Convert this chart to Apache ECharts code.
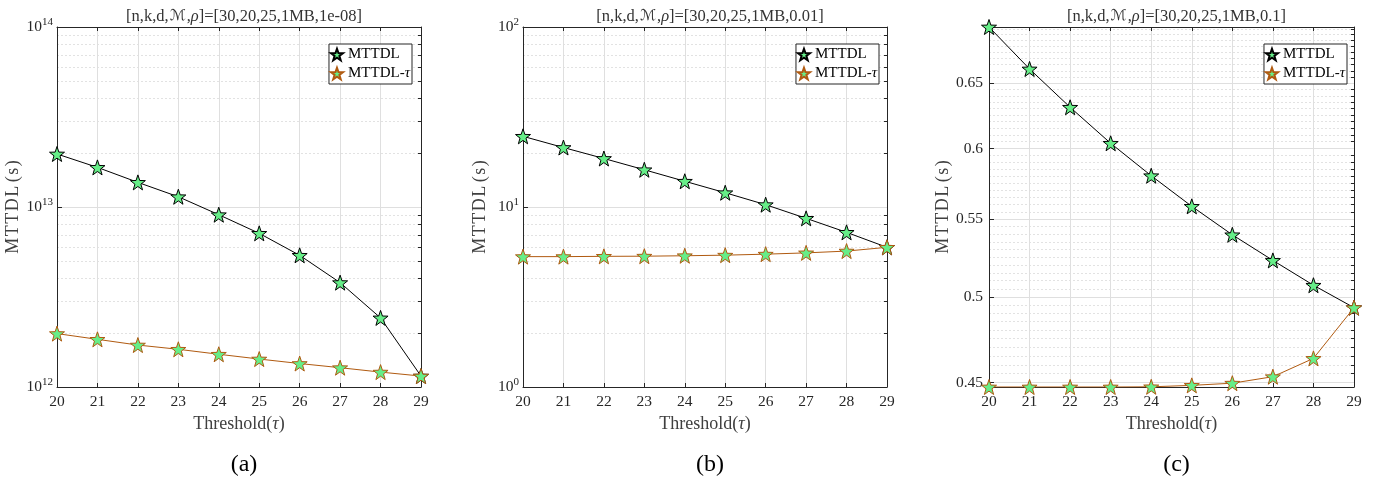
<!DOCTYPE html>
<html>
<head>
<meta charset="utf-8">
<script src="https://cdn.jsdelivr.net/npm/echarts@6/dist/echarts.min.js"></script>
<style>
html,body{margin:0;padding:0;background:#fff;}
#chart{width:1388px;height:479px;}
</style>
</head>
<body>
<div id="chart"></div>
<script>
// ---------------- data ----------------
const thresholds = [20, 21, 22, 23, 24, 25, 26, 27, 28, 29];

const mttdlA    = [1.97e13, 1.66e13, 1.37e13, 1.14e13, 9.06e12, 7.14e12, 5.39e12, 3.80e12, 2.42e12, 1.15e12];
const mttdlTauA = [1.98e12, 1.84e12, 1.71e12, 1.62e12, 1.52e12, 1.43e12, 1.35e12, 1.28e12, 1.21e12, 1.15e12];

const mttdlB    = [24.7, 21.4, 18.6, 16.1, 13.9, 12.0, 10.3, 8.65, 7.23, 5.97];
const mttdlTauB = [5.30, 5.30, 5.32, 5.33, 5.36, 5.40, 5.47, 5.56, 5.69, 5.97];

const mttdlC    = [0.6965, 0.6615, 0.6311, 0.6038, 0.5802, 0.5588, 0.5396, 0.5229, 0.5072, 0.4934];
const mttdlTauC = [0.4476, 0.4476, 0.4476, 0.4476, 0.4477, 0.4485, 0.4497, 0.4533, 0.4636, 0.4934];

const titles   = ['[n,k,d,{m|ℳ},{i|ρ}]=[30,20,25,1MB,1e-08]',
                  '[n,k,d,{m|ℳ},{i|ρ}]=[30,20,25,1MB,0.01]',
                  '[n,k,d,{m|ℳ},{i|ρ}]=[30,20,25,1MB,0.1]'];
const captions = ['(a)', '(b)', '(c)'];
const seriesNames = ['MTTDL', 'MTTDL-τ'];
const xName = 'Threshold({i|τ})';
const yName = 'M\u200aT\u200aT\u200aD\u200aL\u2009(\u200as\u200a)';

const yRangeA = [1e12, 1e14];
const yRangeB = [1, 100];
const yRangeC = [0.4476, 0.6965];
const majorTicksC = [0.45, 0.5, 0.55, 0.6, 0.65];

// minor log grid values (2..9 x 10^n)
function logMinors(lo, hi) {
  const out = [];
  for (let e = Math.round(Math.log10(lo)); e < Math.round(Math.log10(hi)); e++) {
    for (let k = 2; k <= 9; k++) out.push(k * Math.pow(10, e));
  }
  return out;
}
function linMinors(lo, hi, step) {
  const out = [];
  const n0 = Math.ceil(lo / step - 1e-9), n1 = Math.floor(hi / step + 1e-9);
  for (let n = n0; n <= n1; n++) {
    const v = +(n * step).toFixed(4);
    if (Math.abs(v / 0.05 - Math.round(v / 0.05)) > 1e-6) out.push(v);
  }
  return out;
}

// ---------------- styles ----------------
const FONT = '"Liberation Serif", "DejaVu Serif", serif';
const AX = '#262626';
const STAR = 'path://M0,-10 L2.35,-3.24 L9.51,-3.09 L3.8,1.24 L5.88,8.09 L0,4 L-5.88,8.09 L-3.8,1.24 L-9.51,-3.09 L-2.35,-3.24 Z';
const GREEN = '#66ee88';
const BROWN = '#b05a10';

const grids = [
  {left: 57,  top: 27, width: 364, height: 360},
  {left: 523, top: 27, width: 364, height: 360},
  {left: 989, top: 27, width: 365, height: 360}
];
const legendRight = [976, 509, 41];

const option = {
  animation: false,
  backgroundColor: '#fff',
  grid: grids.map(g => Object.assign({containLabel: false, outerBoundsMode: 'none'}, g)),
  title: [],
  legend: [],
  xAxis: [],
  yAxis: [],
  series: []
};

function supLabel(v) {
  const e = Math.round(Math.log10(v));
  return '{b|10}{s|' + e + '}';
}

const yRanges = [yRangeA, yRangeB, yRangeC];
const dataSets = [[mttdlA, mttdlTauA], [mttdlB, mttdlTauB], [mttdlC, mttdlTauC]];

for (let p = 0; p < 3; p++) {
  const g = grids[p];
  const cx = g.left + g.width / 2;
  option.title.push({
    text: titles[p], left: cx, top: 3, textAlign: 'center',
    textStyle: {fontFamily: FONT, fontSize: 16.5, fontWeight: 'normal', color: '#333',
      rich: {m: {fontFamily: '"DejaVu Sans", serif', fontSize: 15, color: '#333', padding: [0, 1, 0, 1]},
             i: {fontFamily: FONT, fontSize: 16.5, fontStyle: 'italic', color: '#333'}}}
  });
  option.title.push({
    text: captions[p], left: cx, top: 448, textAlign: 'center',
    textStyle: {fontFamily: FONT, fontSize: 24, fontWeight: 'normal', color: '#000'}
  });
  option.legend.push({
    data: seriesNames, right: legendRight[p], top: 44, orient: 'vertical',
    icon: STAR, itemWidth: 12, itemHeight: 13, itemGap: 4,
    padding: [3, 2, 3, 1], borderColor: AX, borderWidth: 1, borderRadius: 0, backgroundColor: '#fff',
    selectedMode: false,
    formatter: n => n.replace('τ', '{i|τ}'),
    textStyle: {fontFamily: FONT, fontSize: 15, color: '#000',
      rich: {i: {fontFamily: FONT, fontSize: 15, fontStyle: 'italic', color: '#000'}}}
  });

  // bottom x axis
  option.xAxis.push({
    type: 'value', gridIndex: p, position: 'bottom', min: 20, max: 29, interval: 1,
    name: xName, nameLocation: 'middle', nameGap: 26,
    nameTextStyle: {fontFamily: FONT, fontSize: 18, color: '#404040',
      rich: {i: {fontFamily: FONT, fontSize: 18, fontStyle: 'italic', color: '#404040'}}},
    axisLine: {show: true, onZero: false, lineStyle: {color: AX, width: 1}},
    axisTick: {show: true, inside: true, length: 4, lineStyle: {color: AX}},
    axisLabel: {fontFamily: FONT, fontSize: 15.5, color: AX, margin: 7},
    splitLine: {show: true, lineStyle: {color: '#dfdfdf', width: 1}}
  });
  // top x axis (box)
  option.xAxis.push({
    type: 'value', gridIndex: p, position: 'top', min: 20, max: 29, interval: 1,
    axisLine: {show: true, onZero: false, lineStyle: {color: AX, width: 1}},
    axisTick: {show: true, inside: true, length: 4, lineStyle: {color: AX}},
    axisLabel: {show: false}, splitLine: {show: false}
  });

  const yr = yRanges[p];
  const left = {
    type: 'log', logBase: 10, gridIndex: p, position: 'left', min: yr[0], max: yr[1],
    name: yName, nameLocation: 'middle', nameRotate: 90, nameGap: p === 2 ? 33 : 34,
    nameTextStyle: {fontFamily: FONT, fontSize: 18, color: '#404040'},
    axisLine: {show: true, onZero: false, lineStyle: {color: AX, width: 1}},
    axisTick: {show: true, inside: true, length: 5, lineStyle: {color: AX}},
    splitLine: {show: true, lineStyle: {color: '#dfdfdf', width: 1}}
  };
  let minors;
  if (p < 2) {
    left.axisLabel = {fontFamily: FONT, fontSize: 15.5, color: AX, margin: 4, formatter: supLabel,
      rich: {b: {fontFamily: FONT, fontSize: 15.5, color: AX},
             s: {fontFamily: FONT, fontSize: 11, color: AX, padding: [0, 0, 9, 0]}}};
    minors = logMinors(yr[0], yr[1]);
  } else {
    left.axisTick.customValues = majorTicksC;
    left.axisLabel = {fontFamily: FONT, fontSize: 15.5, color: AX, margin: 6, customValues: majorTicksC,
      formatter: v => String(+v.toFixed(2))};
    minors = linMinors(yr[0], yr[1], 0.005);
  }
  option.yAxis.push(left);
  // right axis: box + minor dotted grid
  option.yAxis.push({
    type: 'log', logBase: 10, gridIndex: p, position: 'right', min: yr[0], max: yr[1],
    axisLine: {show: true, onZero: false, lineStyle: {color: AX, width: 1}},
    axisTick: {show: true, inside: true, length: 3, customValues: minors, lineStyle: {color: AX}},
    axisLabel: {show: false, customValues: minors},
    splitLine: {show: true, lineStyle: {color: '#e2e2e2', width: 1, type: [2, 2]}}
  });

  const ds = dataSets[p];
  for (let s = 0; s < 2; s++) {
    const edge = s === 0 ? '#000' : BROWN;
    option.series.push({
      name: seriesNames[s], type: 'line',
      xAxisIndex: p * 2, yAxisIndex: p * 2,
      data: thresholds.map((t, i) => [t, ds[s][i]]),
      symbol: STAR, symbolSize: 15, showSymbol: true,
      lineStyle: {color: edge, width: 1},
      itemStyle: {color: GREEN, borderColor: edge, borderWidth: 1},
      emphasis: {disabled: true},
      z: s === 0 ? 3 : 4
    });
  }
}

const chart = echarts.init(document.getElementById('chart'), null, {renderer: 'canvas'});
chart.setOption(option);
</script>
</body>
</html>
